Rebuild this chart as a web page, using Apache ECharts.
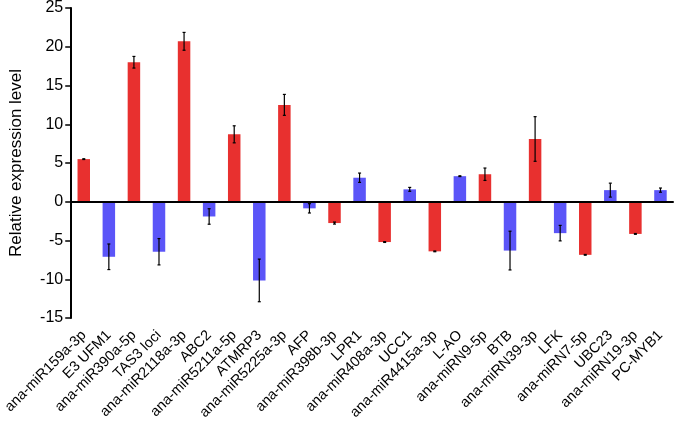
<!DOCTYPE html>
<html><head><meta charset="utf-8">
<script src="https://cdn.jsdelivr.net/npm/echarts@6/dist/echarts.min.js"></script>
<style>html,body{margin:0;padding:0;background:#fff}#c{width:678px;height:423px}</style>
</head><body><div id="c"></div>
<script>
const categories = ['ana-miR159a-3p','E3 UFM1','ana-miR390a-5p','TAS3 loci','ana-miR2118a-3p','ABC2','ana-miR5211a-5p','ATMRP3','ana-miR5225a-3p','AFP','ana-miR398b-3p','LPR1','ana-miR408a-3p','UCC1','ana-miR4415a-3p','L-AO','ana-miRN9-5p','BTB','ana-miRN39-3p','LFK','ana-miRN7-5p','UBC23','ana-miRN19-3p','PC-MYB1'];
const values = [5.5,-7.1,18.0,-6.45,20.7,-1.9,8.7,-10.15,12.5,-0.85,-2.75,3.1,-5.2,1.6,-6.4,3.3,3.55,-6.3,8.1,-4.05,-6.85,1.5,-4.15,1.5];
const errors = [0.05,1.65,0.75,1.7,1.15,1.0,1.1,2.75,1.35,0.6,0.13,0.6,0.05,0.25,0.05,0.05,0.8,2.5,2.88,1.0,0.05,0.9,0.05,0.27];
const groups = ['miRNA','target','miRNA','target','miRNA','target','miRNA','target','miRNA','target','miRNA','target','miRNA','target','miRNA','target','miRNA','target','miRNA','target','miRNA','target','miRNA','target'];
const yTicks = [-15,-10,-5,0,5,10,15,20,25];
const colors = {miRNA:'#E8302F', target:'#5B55F8'};

const chart = echarts.init(document.getElementById('c'));
const font = 'Liberation Sans, Arial, Helvetica, sans-serif';
chart.setOption({
  animation:false,
  grid:{left:70,right:5,top:8,bottom:105,containLabel:false},
  xAxis:{type:'category',data:categories,
    axisLine:{lineStyle:{color:'#000',width:2}},
    axisTick:{alignWithLabel:true,length:6,lineStyle:{color:'#000',width:1.5}},
    axisLabel:{rotate:45,interval:0,color:'#000',fontSize:14.5,fontFamily:font,margin:15}},
  yAxis:{type:'value',min:yTicks[0],max:yTicks[yTicks.length-1],interval:5,
    name:'Relative expression level',nameLocation:'middle',nameGap:46,
    nameTextStyle:{color:'#000',fontSize:17,fontFamily:font},
    axisLine:{show:true,lineStyle:{color:'#000',width:2}},
    axisTick:{show:true,length:6,lineStyle:{color:'#000',width:1.5}},
    axisLabel:{color:'#000',fontSize:16,fontFamily:font,margin:8},
    splitLine:{show:false}},
  series:[
    {type:'bar',barWidth:12.5,
     data:values.map((v,i)=>({value:v,itemStyle:{color:colors[groups[i]]}})),
     markLine:{silent:true,symbol:'none',label:{show:false},
       lineStyle:{color:'#000',width:2,type:'solid'},data:[{yAxis:0}]}},
    {type:'custom',
     data:values.map((v,i)=>[i,v-errors[i],v+errors[i]]),
     renderItem:function(params,api){
       const lo=api.coord([api.value(0),api.value(1)]);
       const hi=api.coord([api.value(0),api.value(2)]);
       const x=lo[0], cw=1.5;
       const st={stroke:'#000',lineWidth:1.2};
       return {type:'group',children:[
         {type:'line',shape:{x1:x,y1:lo[1],x2:x,y2:hi[1]},style:st},
         {type:'line',shape:{x1:x-cw,y1:lo[1],x2:x+cw,y2:lo[1]},style:st},
         {type:'line',shape:{x1:x-cw,y1:hi[1],x2:x+cw,y2:hi[1]},style:st}
       ]};
     },z:10}
  ]
});
</script></body></html>
